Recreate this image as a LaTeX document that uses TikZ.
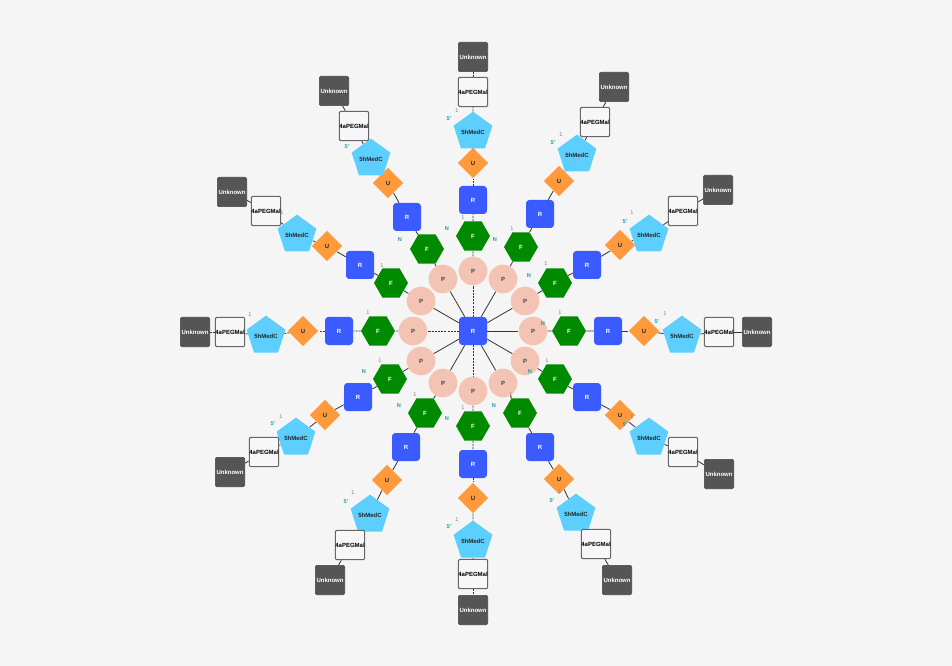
\documentclass[tikz,border=0pt]{standalone}
\usepackage{fontspec}
\setsansfont{Liberation Sans}
\usetikzlibrary{shapes.geometric,backgrounds}
\definecolor{bgc}{HTML}{F5F5F5}
\definecolor{unkc}{HTML}{555555}
\definecolor{unkd}{HTML}{444444}
\definecolor{pegc}{HTML}{F7F7F9}
\definecolor{pegd}{HTML}{666666}
\definecolor{medc}{HTML}{5CCFFF}
\definecolor{uc}{HTML}{FF9A3C}
\definecolor{rc}{HTML}{3A5BFF}
\definecolor{fc}{HTML}{008A00}
\definecolor{pc}{HTML}{F3C4B4}
\definecolor{ptext}{HTML}{444444}
\definecolor{tealc}{HTML}{1A9FA8}
\definecolor{edgec}{HTML}{333333}
\begin{document}
\begin{tikzpicture}[x=0.75pt,y=-0.75pt,
  lbl/.style={font=\sffamily\bfseries\fontsize{4.5}{5}\selectfont},
  unk/.style={lbl, rectangle, rounded corners=1.5pt, fill=unkc, draw=unkd, line width=0.5pt, minimum size=22pt, inner sep=0pt, text=white},
  peg/.style={lbl, rectangle, rounded corners=1pt, fill=pegc, draw=pegd, line width=0.8pt, minimum size=22pt, inner sep=0pt, text=black},
  med/.style={lbl, regular polygon, regular polygon sides=5, fill=medc, minimum size=25.5pt, inner sep=0pt, text=black!85},
  unode/.style={lbl, diamond, fill=uc, minimum width=23pt, minimum height=23pt, inner sep=0pt, text=black!85},
  rnode/.style={lbl, rectangle, rounded corners=2.5pt, fill=rc, minimum size=21pt, inner sep=0pt, text=white},
  fnode/.style={lbl, regular polygon, regular polygon sides=6, fill=fc, minimum size=25.5pt, inner sep=0pt, text=white},
  pnode/.style={lbl, circle, fill=pc, minimum size=21.5pt, inner sep=0pt, text=ptext},
  nlab/.style={font=\sffamily\bfseries\fontsize{4.2}{5}\selectfont, text=tealc, inner sep=0pt},
  olab/.style={font=\sffamily\fontsize{4.2}{5}\selectfont, text=gray, inner sep=0pt},
  edge/.style={draw=edgec, line width=0.6pt},
  edged/.style={draw=edgec, line width=0.6pt, dash pattern=on 1.5pt off 0.8pt},
]
\begin{pgfonlayer}{background}
  \fill[bgc] (0,0) rectangle (952,666);
\end{pgfonlayer}
\useasboundingbox (0,0) rectangle (952,666);

\node[rnode] (c) at (473,331) {R};

\foreach \a/\px/\py/\fx/\fy/\rx/\ry/\ux/\uy/\mx/\my/\gx/\gy/\kx/\ky/\es in {
  a/473/271/473/236/473/200/473/163/473/132/473/92/473/57/edged,
  b/503/279/521/247/540/214/559/181/577/155/595/122/614/87/edge,
  c/525/301/555/283/587/265/620/245/649/235/683/211/718/190/edge,
  d/533/331/569/331/608/331/644/331/682/336/719/332/757/332/edge,
  e/525/361/555/379/587/397/620/415/649/438/683/452/719/474/edge,
  f/503/383/520/413/540/447/559/479/576/514/596/544/617/580/edge,
  g/473/391/473/426/473/464/473/498/473/541/473/574/473/610/edged,
  h/443/383/425/413/406/447/387/480/370/515/350/545/330/580/edge,
  i/421/361/390/379/358/397/325/415/296/438/264/452/230/472/edge,
  j/413/331/378/331/339/331/303/331/266/336/230/332/195/332/edged,
  k/421/301/391/283/360/265/327/246/297/235/266/211/232/192/edge,
  l/443/279/427/249/407/217/388/183/371/159/354/126/334/91/edge}
{
  \node[pnode] (p\a) at (\px,\py) {P};
  \node[fnode] (f\a) at (\fx,\fy) {F};
  \node[rnode] (r\a) at (\rx,\ry) {R};
  \node[unode] (u\a) at (\ux,\uy) {U};
  \node[med]   (m\a) at (\mx,\my) {5hMedC};
  \node[peg]   (g\a) at (\gx,\gy) {4aPEGMal};
  \node[unk]   (k\a) at (\kx,\ky) {Unknown};
  \begin{pgfonlayer}{background}
    \draw[\es] (c) -- (p\a);
    \draw[\es] (p\a) -- (f\a);
    \draw[\es] (f\a) -- (r\a);
    \draw[\es] (r\a) -- (u\a);
    \draw[\es] (u\a) -- (m\a);
    \draw[\es] (m\a) -- (g\a);
    \draw[\es] (g\a) -- (k\a);
  \end{pgfonlayer}
}

% linkage labels near F nodes
\foreach \n/\x/\y in {n1/447/229, n2/495/240, n3/400/240, n4/529/276, n5/543/324,
  n6/530/372, n7/494/406, n8/447/419, n9/399/406, n10/364/372}
  \node[nlab] (\n) at (\x,\y) {N};
\foreach \n/\x/\y in {o1/463/218, o2/512/229, o3/382/266, o4/546/264, o5/560/313,
  o6/547/361, o7/511/395, o8/463/408, o9/415/395, o10/380/361, o11/368/313}
  \node[olab] (\n) at (\x,\y) {1};
% labels near 5hMedC nodes
\foreach \n/\x/\y in {s1/449/119, s2/553/143, s3/625/222, s4/657/322, s5/625/425,
  s6/552/501, s7/449/527, s8/346/502, s9/273/424, s10/347/147}
  \node[nlab] (\n) at (\x,\y) {5'};
\foreach \n/\x/\y in {t1/457/111, t2/561/135, t3/632/213, t4/665/314, t5/632/417,
  t6/560/492, t7/457/520, t8/353/493, t9/281/417, t10/250/315, t11/282/213}
  \node[olab] (\n) at (\x,\y) {1};
\end{tikzpicture}
\end{document}
